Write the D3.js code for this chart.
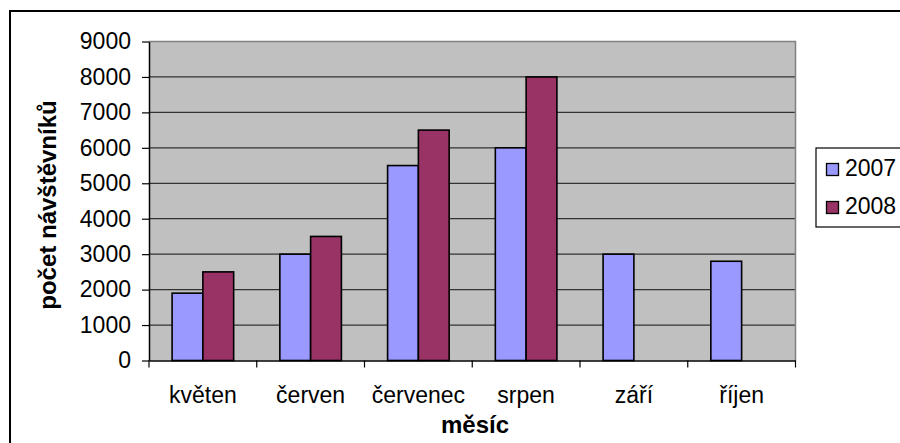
<!DOCTYPE html>
<html><head><meta charset="utf-8">
<script src="https://cdn.jsdelivr.net/npm/d3@7"></script>
<style>body{margin:0;background:#fff}svg{display:block}text{font-family:"Liberation Sans",Arial,sans-serif}</style>
</head><body><svg id="c" width="900" height="443"></svg>
<script>
const categories = ["květen","červen","červenec","srpen","září","říjen"];
const seriesNames = ["2007","2008"];
const values2007 = [1900,3000,5500,6000,3000,2800];
const values2008 = [2500,3500,6500,8000,null,null];
const yTicks = [0,1000,2000,3000,4000,5000,6000,7000,8000,9000];
const colors = ["#9999FF","#993366"];

const svg = d3.select("#c");
// outer border
svg.append("rect").attr("x",10).attr("y",11).attr("width",900).attr("height",440)
  .attr("fill","#fff").attr("stroke","#000").attr("stroke-width",2);

const L=149, R=795.5, T=41.5, B=360.5;
const x = d3.scaleBand().domain(categories).range([L,R]).paddingInner(0).paddingOuter(0);
const y = d3.scaleLinear().domain([0,9000]).range([B,T]);

svg.append("rect").attr("x",L).attr("y",T).attr("width",R-L).attr("height",B-T).attr("fill","#C0C0C0");
// gridlines
svg.append("g").selectAll("line").data(yTicks.filter(d=>d>0 && d<9000)).join("line")
  .attr("x1",L).attr("x2",R).attr("y1",d=>y(d)).attr("y2",d=>y(d))
  .attr("stroke","#333").attr("stroke-width",1.2);
// plot border top/right
svg.append("path").attr("d",`M${L},${T}H${R}V${B}`).attr("fill","none").attr("stroke","#808080").attr("stroke-width",1.5);

// bars
const bw = x.bandwidth()/3.5;
const data = [values2007, values2008];
data.forEach((vals,si)=>{
  svg.append("g").selectAll("rect").data(categories.map((c,i)=>({c,v:vals[i]})).filter(d=>d.v!=null)).join("rect")
    .attr("x",d=>x(d.c)+x.bandwidth()/2-bw+si*bw)
    .attr("y",d=>y(d.v)).attr("width",bw).attr("height",d=>B-y(d.v))
    .attr("fill",colors[si]).attr("stroke","#000").attr("stroke-width",1.6);
});

// y axis
const ya = d3.axisLeft(y).tickValues(yTicks).tickFormat(d3.format("d")).tickSize(7).tickPadding(11).tickSizeOuter(0);
const gy = svg.append("g").attr("transform",`translate(${L},0)`).call(ya);
gy.select(".domain").attr("stroke","#000").attr("stroke-width",1.5);
gy.selectAll(".tick line").attr("stroke","#000").attr("stroke-width",1.2);
gy.selectAll("text").attr("font-size",23).attr("fill","#000").attr("font-family","Liberation Sans, Arial, sans-serif");

// x axis
const xa = d3.axisBottom(x).tickSize(0).tickPadding(26);
const gx = svg.append("g").attr("transform",`translate(0,${B})`).call(xa);
gx.select(".domain").attr("stroke","#000").attr("stroke-width",1.5);
gx.selectAll("text").attr("font-size",23).attr("fill","#000").attr("font-family","Liberation Sans, Arial, sans-serif");
// category boundary ticks
svg.append("g").selectAll("line").data(categories.map((c,i)=>i).concat([categories.length])).join("line")
  .attr("x1",i=>L+i*x.step()).attr("x2",i=>L+i*x.step()).attr("y1",B).attr("y2",B+7)
  .attr("stroke","#000").attr("stroke-width",1.2);

// titles
svg.append("text").attr("x",475).attr("y",433).attr("text-anchor","middle")
  .attr("font-size",24).attr("font-weight","bold").text("měsíc");
svg.append("text").attr("transform","translate(56,205) rotate(-90)").attr("text-anchor","middle")
  .attr("font-size",24).attr("font-weight","bold").text("počet návštěvníků");

// legend
const lg = svg.append("g");
lg.append("rect").attr("x",816).attr("y",148).attr("width",100).attr("height",79)
  .attr("fill","#fff").attr("stroke","#000").attr("stroke-width",1.2);
const ly = d3.scalePoint().domain(seriesNames).range([176,214]);
seriesNames.forEach((s,i)=>{
  lg.append("rect").attr("x",826.5).attr("y",ly(s)-12.5).attr("width",12).attr("height",12)
    .attr("fill",colors[i]).attr("stroke","#000").attr("stroke-width",1.3);
  lg.append("text").attr("x",845).attr("y",ly(s)).attr("font-size",23).text(s);
});
</script></body></html>
